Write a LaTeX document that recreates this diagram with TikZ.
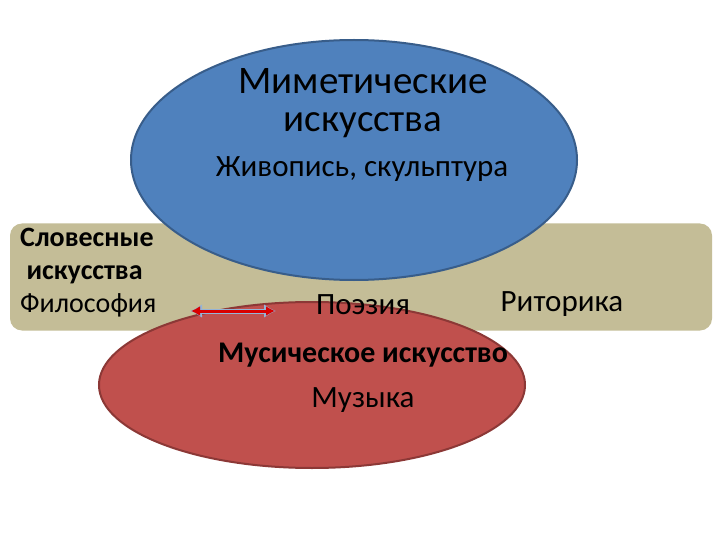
\documentclass[tikz,border=0pt]{standalone}
\usepackage{fontspec}
\setmainfont{Carlito}
\usetikzlibrary{arrows.meta,shapes.geometric}
\definecolor{bl}{HTML}{4F81BD}\definecolor{bld}{HTML}{385D8A}
\definecolor{rd}{HTML}{C0504D}\definecolor{rdd}{HTML}{8C3836}
\definecolor{tan}{HTML}{C4BD97}
\tikzset{lbl/.style={inner sep=0pt,align=center,text=black}}
\begin{document}
\begin{tikzpicture}[x=1pt,y=-1pt]
\useasboundingbox (0,0) rectangle (720,540);
\fill[white] (0,0) rectangle (720,540);
\node[fill=tan,rounded corners=12pt,minimum width=702pt,minimum height=107pt,inner sep=0pt] (band) at (361,277) {};
\node[ellipse,draw=rdd,line width=2pt,fill=rd,minimum width=426pt,minimum height=166pt] (red) at (312,385) {};
\node[ellipse,draw=bld,line width=2pt,fill=bl,minimum width=446pt,minimum height=240pt] (blue) at (354,160) {};
\node[lbl,font=\fontsize{39}{38}\selectfont] (mim) at (363,103) {Миметические\\искусства};
\node[lbl,font=\fontsize{31}{32}\selectfont] (ziv) at (362,169) {Живопись, скульптура};
\node[lbl,font=\fontsize{28}{33}\selectfont,align=left,anchor=west] (slov) at (20,273) {\textbf{Словесные}\\\textbf{~искусства}\\Философия};
\node[lbl,font=\fontsize{31}{32}\selectfont] (poe) at (363,305) {Поэзия};
\node[lbl,font=\fontsize{31}{32}\selectfont] (rit) at (562,304) {Риторика};
\node[lbl,font=\fontsize{30}{32}\selectfont\bfseries] (mus) at (363,355) {Мусическое искусство};
\node[lbl,font=\fontsize{31}{32}\selectfont] (muz) at (363,400) {Музыка};
\coordinate (a1) at (190,311); \coordinate (a2) at (276,311);
\draw[bl!60,line width=5pt,{Latex[length=12pt,width=14pt]}-{Latex[length=12pt,width=14pt]}] (a1) -- (a2);
\draw[red!85!black,line width=3pt,shorten <=1pt,shorten >=1pt,{Latex[length=9pt,width=10pt]}-{Latex[length=9pt,width=10pt]}] (a1) -- (a2);
\end{tikzpicture}
\end{document}
